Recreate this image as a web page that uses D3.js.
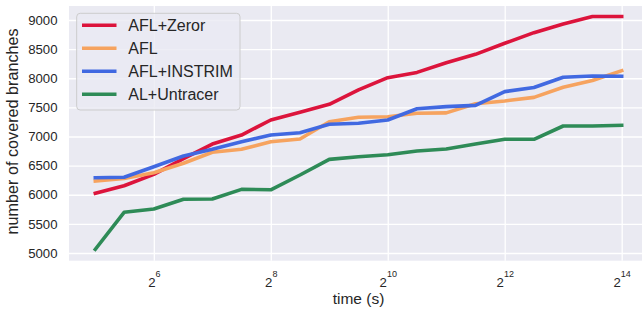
<!DOCTYPE html>
<html>
<head>
<meta charset="utf-8">
<script src="https://cdn.jsdelivr.net/npm/d3@7"></script>
<style>
  body { margin: 0; background: #fff; }
  svg { display: block; font-family: "Liberation Sans", Arial, sans-serif; }
</style>
</head>
<body>
<svg width="642" height="311"></svg>
<script>
// time in seconds, one sample every half power of two
const times = [32, 45, 64, 91, 128, 181, 256, 362, 512, 724, 1024, 1448, 2048, 2896, 4096, 5793, 8192, 11585, 16384];

const zeror    = [6025, 6155, 6350, 6620, 6870, 7025, 7283, 7415, 7553, 7800, 8010, 8100, 8265, 8410, 8600, 8782, 8931, 9060, 9060];
const afl      = [6236, 6280, 6378, 6540, 6729, 6780, 6910, 6957, 7254, 7330, 7340, 7398, 7405, 7563, 7610, 7672, 7845, 7960, 8130];
const instrim  = [6292, 6300, 6480, 6665, 6780, 6910, 7025, 7065, 7210, 7227, 7283, 7477, 7512, 7535, 7770, 7840, 8017, 8039, 8035];
const untracer = [5063, 5699, 5755, 5922, 5927, 6093, 6085, 6339, 6608, 6653, 6688, 6751, 6785, 6871, 6952, 6952, 7180, 7180, 7192];

const seriesNames = ['AFL+Zeror', 'AFL', 'AFL+INSTRIM', 'AL+Untracer'];
const seriesValues = [zeror, afl, instrim, untracer];
const colors = ['#dc143c', '#f6a35f', '#4169e1', '#2e8b57'];

const xTicks = [64, 256, 1024, 4096, 16384];
const yTicks = [5000, 5500, 6000, 6500, 7000, 7500, 8000, 8500, 9000];

const svg = d3.select('svg');
const textColor = '#262626';

const plot = {left: 69, right: 648, top: 6, bottom: 260.7};

const xScale = d3.scaleLog().base(2)
    .domain([Math.pow(2, 4.55), Math.pow(2, 14.45)])
    .range([plot.left, plot.right]);

const yScale = d3.scaleLinear()
    .domain([4868, 9240])
    .range([plot.bottom, plot.top]);

svg.append('rect')
    .attr('x', plot.left)
    .attr('y', plot.top)
    .attr('width', plot.right - plot.left)
    .attr('height', plot.bottom - plot.top)
    .attr('fill', '#eaeaf2');

// y grid + labels
const yAxis = d3.axisLeft(yScale)
    .tickValues(yTicks)
    .tickSize(-(plot.right - plot.left))
    .tickPadding(11.5)
    .tickFormat(d3.format('d'));

const yAxisG = svg.append('g')
    .attr('transform', `translate(${plot.left},0)`)
    .call(yAxis)
    .attr('font-family', null)
    .attr('font-size', null);
yAxisG.select('.domain').remove();
yAxisG.selectAll('.tick line').attr('stroke', '#fff').attr('stroke-width', 1.3);
yAxisG.selectAll('.tick text')
    .attr('fill', textColor)
    .attr('font-size', 13.2);

// x grid + labels
const xAxis = d3.axisBottom(xScale)
    .tickValues(xTicks)
    .tickSize(-(plot.bottom - plot.top))
    .tickFormat(() => '');

const xAxisG = svg.append('g')
    .attr('transform', `translate(0,${plot.bottom})`)
    .call(xAxis)
    .attr('font-family', null)
    .attr('font-size', null);
xAxisG.select('.domain').remove();
xAxisG.selectAll('.tick line').attr('stroke', '#fff').attr('stroke-width', 1.3);
xAxisG.selectAll('.tick text').each(function(d) {
    const t = d3.select(this)
        .attr('y', 26.6)
        .attr('dy', null)
        .attr('fill', textColor)
        .attr('font-size', 13.2);
    t.append('tspan').text('2');
    t.append('tspan')
        .attr('dy', -10.5)
        .attr('font-size', 9)
        .text(Math.round(Math.log2(d)));
});

// lines
const line = d3.line()
    .x((d, i) => xScale(times[i]))
    .y(d => yScale(d));

seriesValues.forEach((vals, k) => {
    svg.append('path')
        .attr('d', line(vals))
        .attr('fill', 'none')
        .attr('stroke', colors[k])
        .attr('stroke-width', 3.6)
        .attr('stroke-linejoin', 'round')
        .attr('stroke-linecap', 'square');
});

// axis titles
svg.append('text')
    .attr('x', (plot.left + plot.right) / 2)
    .attr('y', 304)
    .attr('text-anchor', 'middle')
    .attr('font-size', 15.5)
    .attr('fill', textColor)
    .text('time (s)');

svg.append('text')
    .attr('transform', `translate(18.3,${(plot.top + plot.bottom) / 2 - 2}) rotate(-90)`)
    .attr('text-anchor', 'middle')
    .attr('font-size', 16.2)
    .attr('fill', textColor)
    .text('number of covered branches');

// legend
const legend = svg.append('g');
legend.append('rect')
    .attr('x', 76.7)
    .attr('y', 13.3)
    .attr('width', 163.3)
    .attr('height', 96.7)
    .attr('rx', 3.5)
    .attr('fill', '#eaeaf2')
    .attr('fill-opacity', 0.8)
    .attr('stroke', '#cccccc')
    .attr('stroke-width', 1);

seriesNames.forEach((name, k) => {
    const y = 25.3 + k * 23;
    legend.append('line')
        .attr('x1', 82).attr('x2', 116.5)
        .attr('y1', y).attr('y2', y)
        .attr('stroke', colors[k])
        .attr('stroke-width', 3.6);
    legend.append('text')
        .attr('x', 128.3)
        .attr('y', y)
        .attr('dy', '0.36em')
        .attr('font-size', 16)
        .attr('fill', textColor)
        .text(name);
});
</script>
</body>
</html>
